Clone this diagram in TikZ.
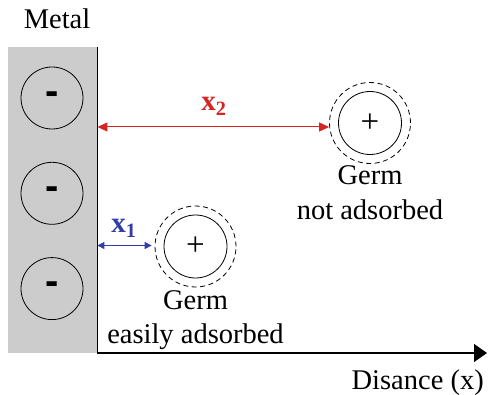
\documentclass[tikz,border=0pt]{standalone}
\usepackage{fontspec}
\setmainfont{Liberation Serif}
\setsansfont{Liberation Sans}
\usepackage{tikz}
\usetikzlibrary{arrows.meta,positioning,calc}

\definecolor{distred}{RGB}{214,36,36}
\definecolor{distblue}{RGB}{48,62,165}

\begin{document}
\begin{tikzpicture}[
    x=1pt, y=1pt,
    font=\fontsize{28.5}{34.5}\selectfont,
    charge/.style={
        circle, draw=black, line width=0.8pt, inner sep=0pt,
        minimum size=62pt, font=\fontsize{40}{40}\selectfont\sffamily\bfseries},
    germ/.style={
        circle, draw=black, line width=0.8pt, inner sep=0pt,
        minimum size=63pt, font=\fontsize{33}{33}\selectfont},
    shell/.style={
        circle, draw=black, line width=0.8pt, dashed, dash pattern=on 5pt off 3.5pt,
        inner sep=0pt, minimum size=81pt},
    caption/.style={align=center, inner sep=0pt},
    dist/.style={font=\fontsize{29}{29}\selectfont\bfseries, text=#1},
    arr/.style={{Triangle[length=10pt,width=9pt]}-{Triangle[length=10pt,width=9pt]},
        line width=1pt, draw=#1},
    axis/.style={-{Triangle[length=13pt,width=18pt]}, line width=1.2pt}
]
\useasboundingbox (0,0) rectangle (490,394);

%% ══════════════════════════════ METAL ══════════════════════════════
\node[fill=black!20, minimum width=89pt, minimum height=306pt,
      inner sep=0pt, anchor=south west] (metal) at (8,41) {};
\draw[line width=0.8pt] (metal.north east) -- (metal.south east);
\node (metal_lbl) at (57,375) {Metal};

%% three negative charges in the metal
\node[charge] (neg1) at (52,296) {-};
\node[charge, below=32.5pt of neg1] (neg2) {-};
\node[charge, below=32.5pt of neg2] (neg3) {-};

%% ══════════════════════════════ AXIS ══════════════════════════════
\coordinate (axis_end) at (487,41);
\draw[axis] (metal.south east) -- (axis_end);
\node[anchor=base east, inner sep=0pt] (axis_lbl) at (484,5) {Disance (x)};

%% ══════════════════════════════ GERMS ══════════════════════════════
\node[germ] (germ_far) at (370,271) {+};
\node[shell] (shell_far) at (germ_far) {};
\node[caption, below=2pt of shell_far] (far_lbl) {Germ\\not adsorbed};

\node[germ] (germ_near) at (195.5,147.5) {+};
\node[shell] (shell_near) at (germ_near) {};
\node[caption, below=3pt of shell_near] (near_lbl) {Germ\\easily adsorbed};

%% ══════════════════════════════ DISTANCES ══════════════════════════════
\coordinate (far_end) at ([yshift=-4pt]shell_far.west);
\draw[arr=distred] (metal.east |- far_end) -- (far_end);
\node[dist=distred] (x2) at (214,288) {x\textsubscript{2}};

\coordinate (near_end) at ([xshift=-3pt,yshift=1pt]shell_near.west);
\draw[arr=distblue, {Triangle[length=7pt,width=7pt]}-{Triangle[length=7pt,width=7pt]}]
    (metal.east |- near_end) -- (near_end);
\node[dist=distblue] (x1) at (124,166) {x\textsubscript{1}};

\end{tikzpicture}
\end{document}
